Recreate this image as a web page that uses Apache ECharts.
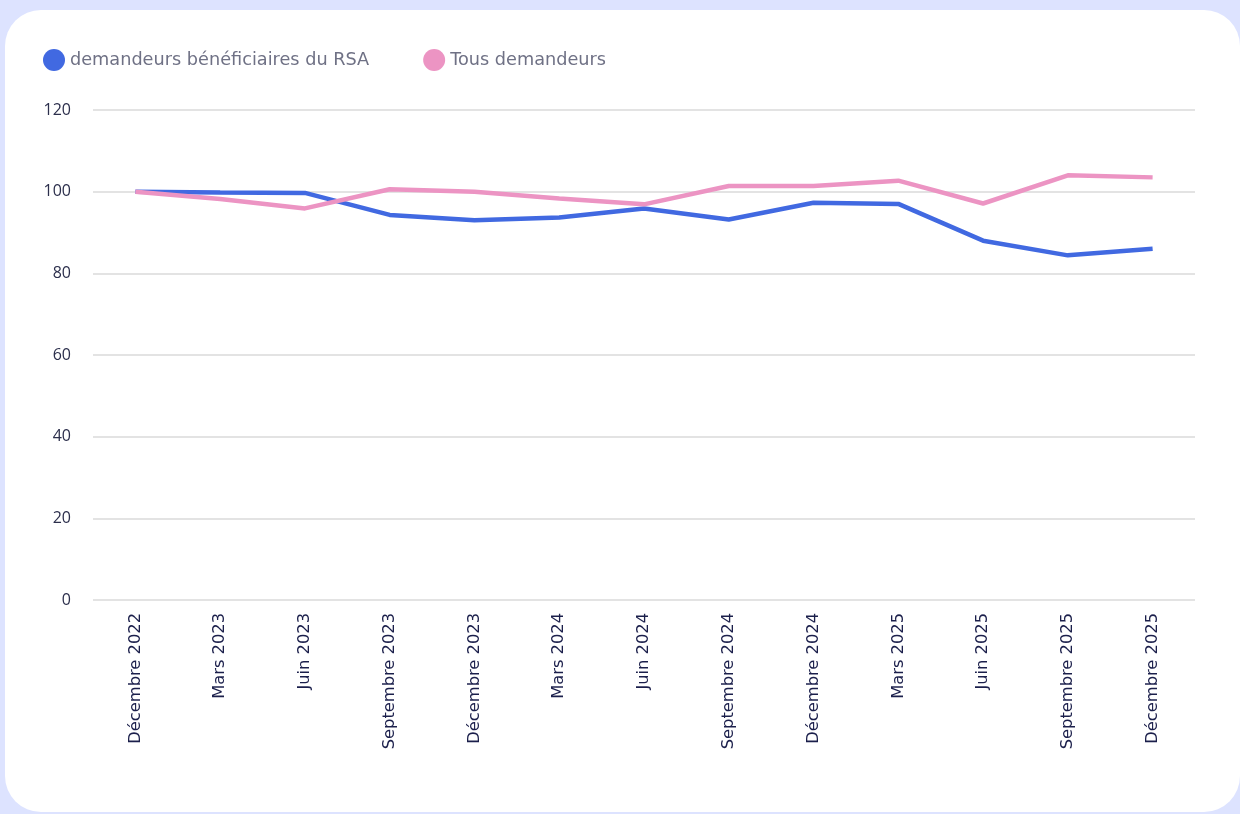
<!DOCTYPE html>
<html><head><meta charset="utf-8">
<script src="https://cdn.jsdelivr.net/npm/echarts@6/dist/echarts.min.js"></script>
<style>
html,body{margin:0;padding:0;width:1240px;height:814px;background:#dde3ff;overflow:hidden;}
#card{position:absolute;left:5px;top:10px;width:1235px;height:802px;background:#fff;border-radius:36px;}
#chart{position:absolute;left:0;top:0;width:1240px;height:814px;}
</style></head>
<body><div id="card"></div><div id="chart"></div>
<script>
const categories = ['Décembre 2022','Mars 2023','Juin 2023','Septembre 2023','Décembre 2023','Mars 2024','Juin 2024','Septembre 2024','Décembre 2024','Mars 2025','Juin 2025','Septembre 2025','Décembre 2025'];
const rsaValues = [100, 99.8, 99.7, 94.3, 93.0, 93.7, 95.9, 93.2, 97.3, 97.0, 88.0, 84.4, 86.0];
const tousValues = [100, 98.2, 95.9, 100.6, 100.0, 98.3, 96.9, 101.4, 101.4, 102.7, 97.1, 104.0, 103.5];
const seriesNames = ['demandeurs bénéficiaires du RSA', 'Tous demandeurs'];

const chart = echarts.init(document.getElementById('chart'), null, {renderer:'canvas'});
chart.setOption({
  animation:false,
  backgroundColor:'transparent',
  legend:{
    left:38, top:44, itemWidth:22, itemHeight:22, itemGap:54, icon:'circle',
    textStyle:{fontFamily:'DejaVu Sans', fontSize:17.7, color:'#6f7185'},
    data:seriesNames
  },
  grid:{left:93, right:45, top:110, bottom:214, containLabel:false},
  xAxis:{
    type:'category', data:categories, boundaryGap:true,
    axisLine:{show:false}, axisTick:{show:false},
    axisLabel:{rotate:90, interval:0, margin:13, fontFamily:'DejaVu Sans', fontSize:16.3, color:'#1b1f4b'}
  },
  yAxis:{
    type:'value', min:0, max:120, interval:20,
    axisLine:{show:false}, axisTick:{show:false},
    axisLabel:{margin:22, fontFamily:'Open Sans', fontSize:16, color:'#2c2f4c'},
    splitLine:{lineStyle:{color:'#e3e3e3', width:2}}
  },
  series:[
    {name:seriesNames[0], type:'line', data:rsaValues, symbol:'none', color:'#4169e1', lineStyle:{width:4.5, color:'#4169e1'}},
    {name:seriesNames[1], type:'line', data:tousValues, symbol:'none', color:'#ec94c3', lineStyle:{width:4.5, color:'#ec94c3'}}
  ]
});
</script></body></html>
